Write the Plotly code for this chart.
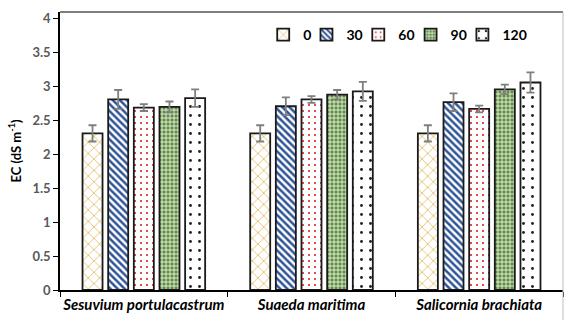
import plotly.graph_objects as go

categories = ["Sesuvium portulacastrum", "Suaeda maritima", "Salicornia brachiata"]
series_names = ["0", "30", "60", "90", "120"]
v0 = [2.31, 2.31, 2.31]
v30 = [2.81, 2.71, 2.77]
v60 = [2.69, 2.81, 2.67]
v90 = [2.70, 2.88, 2.96]
v120 = [2.83, 2.93, 3.06]
e0 = [0.12, 0.12, 0.12]
e30 = [0.14, 0.13, 0.13]
e60 = [0.05, 0.05, 0.05]
e90 = [0.08, 0.07, 0.07]
e120 = [0.13, 0.14, 0.15]
y_ticks = [0, 0.5, 1, 1.5, 2, 2.5, 3, 3.5, 4]

values = [v0, v30, v60, v90, v120]
errors = [e0, e30, e60, e90, e120]
patterns = [
    dict(shape="x", fgcolor="#D4A72C", bgcolor="white", size=8, solidity=0.15, fillmode="replace"),
    dict(shape="\\", fgcolor="#2F5597", bgcolor="white", size=5, solidity=0.5, fillmode="replace"),
    dict(shape=".", fgcolor="#E02020", bgcolor="white", size=6, solidity=0.1, fillmode="replace"),
    dict(shape="+", fgcolor="white", bgcolor="#5E8E3E", size=4, solidity=0.35, fillmode="replace"),
    dict(shape=".", fgcolor="#222222", bgcolor="white", size=9, solidity=0.08, fillmode="replace"),
]
legend_ids = ["legend", "legend2", "legend3", "legend4", "legend5"]
legend_x = [0.404, 0.490, 0.593, 0.697, 0.800]

fig = go.Figure()
for name, vals, errs, pat, lid in zip(series_names, values, errors, patterns, legend_ids):
    fig.add_trace(go.Bar(
        name=name, x=categories, y=vals, legend=lid, showlegend=True,
        marker=dict(color="white", pattern=pat, line=dict(color="#1a1a1a", width=1.8)),
        error_y=dict(type="data", array=errs, color="#7F7F7F", thickness=1.8, width=4),
    ))

legend_common = dict(orientation="h", y=0.917, xanchor="left", yanchor="middle",
                     font=dict(size=14, color="black", family="Lato, sans-serif", weight="bold"),
                     bgcolor="rgba(0,0,0,0)", itemwidth=30)
layout_legends = {lid: dict(legend_common, x=lx) for lid, lx in zip(legend_ids, legend_x)}

fig.update_layout(
    width=565, height=320,
    margin=dict(l=60, r=2, t=12, b=30),
    paper_bgcolor="white", plot_bgcolor="white",
    showlegend=True,
    barmode="group", bargap=0.235, bargroupgap=0.22,
    font=dict(family="Lato, Open Sans, sans-serif"),
    xaxis=dict(showline=True, linecolor="black", linewidth=1.5, ticks="outside",
               tickson="boundaries", ticklen=5, tickcolor="black", tickangle=0,
               tickfont=dict(size=15, color="black", family="Lato, sans-serif",
                             style="italic", weight="bold")),
    yaxis=dict(range=[0, 4.1], tickvals=y_ticks, ticktext=[f"{t:g}" for t in y_ticks],
               showline=True, linecolor="black", linewidth=1.5, ticks="outside",
               ticklen=5, tickcolor="black", showgrid=False, zeroline=False,
               tickfont=dict(size=13, color="#595959", family="Lato, sans-serif", weight="bold"),
               title=dict(text="EC (dS m<sup>-1</sup>)", standoff=8,
                          font=dict(size=13, color="black", family="Lato, sans-serif", weight="bold"))),
    shapes=[
        dict(type="line", xref="paper", yref="paper", x0=0, x1=1, y0=1, y1=1,
             line=dict(color="black", width=1.2)),
        dict(type="line", xref="paper", yref="paper", x0=1, x1=1, y0=1, y1=-0.2,
             line=dict(color="#BFBFBF", width=1)),
    ],
    **layout_legends,
)

fig.write_html("out.html", config={"displayModeBar": False},
               post_script="document.body.style.margin='0';")
